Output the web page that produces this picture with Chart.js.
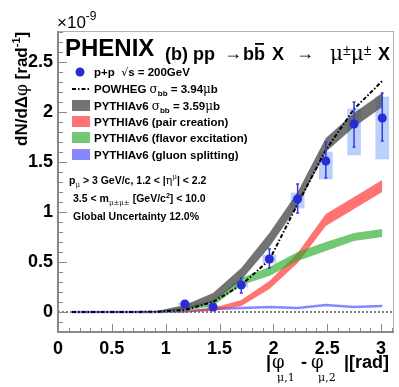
<!DOCTYPE html>
<html>
<head>
<meta charset="utf-8">
<script src="https://cdn.jsdelivr.net/npm/chart.js@4.4.1/dist/chart.umd.min.js"></script>
<style>
  html, body { margin: 0; padding: 0; background: #fff; }
  #wrap { width: 399px; height: 387px; position: relative; }
</style>
</head>
<body>
<div id="wrap"><canvas id="chart"></canvas></div>
<script>
// bin centres of |dphi| (rad)
const binX = [0.131, 0.393, 0.654, 0.916, 1.178, 1.440, 1.702, 1.963, 2.225, 2.487, 2.749, 3.011];

// PHENIX p+p data (x 1e-9)
const dataX = [1.178, 1.440, 1.702, 1.963, 2.225, 2.487, 2.749, 3.011];
const dataY = [0.08, 0.05, 0.27, 0.53, 1.13, 1.51, 1.88, 1.94];
const statLo = [0.06, 0.03, 0.19, 0.44, 0.99, 1.34, 1.65, 1.71];
const statHi = [0.10, 0.07, 0.34, 0.63, 1.28, 1.70, 2.10, 2.19];
const sysLo = [0.07, 0.04, 0.25, 0.49, 1.04, 1.33, 1.57, 1.53];
const sysHi = [0.09, 0.06, 0.29, 0.57, 1.19, 1.60, 2.03, 2.15];

// POWHEG
const powheg = [0, 0, 0, 0.003, 0.02, 0.10, 0.27, 0.52, 1.08, 1.62, 2.03, 2.31];
// PYTHIA total band
const pythiaHi = [0, 0, 0, 0.01, 0.07, 0.19, 0.44, 0.79, 1.20, 1.74, 1.99, 2.19];
const pythiaLo = [0, 0, 0, 0, 0.02, 0.10, 0.32, 0.65, 1.06, 1.60, 1.85, 2.05];
// pair creation
const pairHi = [0, 0, 0, 0, 0.01, 0.04, 0.12, 0.31, 0.59, 0.98, 1.15, 1.32];
const pairLo = [0, 0, 0, 0, 0, 0.01, 0.06, 0.23, 0.49, 0.86, 1.03, 1.20];
// flavor excitation
const flavHi = [0, 0, 0, 0.01, 0.05, 0.12, 0.34, 0.45, 0.60, 0.70, 0.79, 0.83];
const flavLo = [0, 0, 0, 0, 0.01, 0.06, 0.27, 0.36, 0.51, 0.61, 0.71, 0.75];
// gluon splitting
const gluon = [0, 0, 0, 0, 0.005, 0.03, 0.04, 0.05, 0.04, 0.07, 0.05, 0.06];

const xTicks = [0, 0.5, 1, 1.5, 2, 2.5, 3];
const yTicks = [0, 0.5, 1, 1.5, 2, 2.5];

const pts = (xs, ys) => xs.map((x, i) => ({ x: x, y: ys[i] }));

const SANS = '"Liberation Sans", Arial, sans-serif';
const SERIF = '"DejaVu Serif", serif';
const GREY = '#8a8a8a';

function rich(ctx, x, y, parts) {
    for (const p of parts) {
        ctx.font = p[1];
        ctx.fillText(p[0], x, y + (p[2] || 0));
        x += ctx.measureText(p[0]).width + (p[3] || 0);
    }
    return x;
}

// zero line, error bars, frame and texts
const PTS = 0;
const marks = {
    id: 'marks',
    beforeDatasetsDraw(chart) {
        const { ctx, chartArea: a, scales: { y } } = chart;
        const y0 = y.getPixelForValue(0);
        ctx.save();
        ctx.strokeStyle = '#000';
        ctx.lineWidth = 1;
        ctx.setLineDash([2, 2]);
        ctx.beginPath();
        ctx.moveTo(a.left, y0);
        ctx.lineTo(a.right, y0);
        ctx.stroke();
        ctx.restore();
    },
    beforeDatasetDraw(chart, args) {
        if (args.index !== PTS) return;
        const { ctx, scales: { x, y } } = chart;
        ctx.save();
        ctx.strokeStyle = '#3a3ad8';
        ctx.lineWidth = 1.5;
        dataX.forEach((v, i) => {
            const px = x.getPixelForValue(v);
            const lo = y.getPixelForValue(statLo[i]);
            const hi = y.getPixelForValue(statHi[i]);
            ctx.beginPath();
            ctx.moveTo(px, lo); ctx.lineTo(px, hi);
            ctx.moveTo(px - 1.5, lo); ctx.lineTo(px + 1.5, lo);
            ctx.moveTo(px - 1.5, hi); ctx.lineTo(px + 1.5, hi);
            ctx.stroke();
        });
        ctx.restore();
    },
    afterDraw(chart) {
        const { ctx, chartArea: a, scales: { x, y } } = chart;
        ctx.save();
        // frame
        ctx.strokeStyle = '#b0b0b0';
        ctx.lineWidth = 1;
        ctx.strokeRect(a.left + 0.5, a.top + 0.5, a.right - a.left - 1, a.bottom - a.top - 1);
        ctx.strokeStyle = GREY;
        ctx.lineWidth = 2;
        ctx.beginPath();
        ctx.moveTo(a.left, a.top); ctx.lineTo(a.left, a.bottom); ctx.lineTo(a.right, a.bottom);
        ctx.stroke();
        // ticks
        ctx.lineWidth = 1;
        ctx.beginPath();
        for (let k = -2; k <= 28; k++) {
            const py = Math.round(y.getPixelForValue(k / 10)) + 0.5;
            const len = k % 5 === 0 ? 9 : 5;
            ctx.moveTo(a.left, py); ctx.lineTo(a.left + len, py);
        }
        for (let k = 0; k <= 31; k++) {
            const px = Math.round(x.getPixelForValue(k / 10)) + 0.5;
            const len = k % 5 === 0 ? 8 : 4;
            ctx.moveTo(px, a.bottom); ctx.lineTo(px, a.bottom - len);
        }
        ctx.stroke();

        ctx.fillStyle = '#000';
        ctx.textBaseline = 'alphabetic';
        ctx.textAlign = 'left';
        // exponent
        rich(ctx, 57, 28, [['\u00d710', '17px ' + SANS], ['-9', '12px ' + SANS, -8]]);
        // title
        ctx.font = 'bold 24px ' + SANS;
        ctx.fillText('PHENIX', 65, 56);
        ctx.font = 'bold 18px ' + SANS;
        ctx.fillText('(b) pp', 165, 60);
        ctx.font = '18px ' + SANS;
        ctx.fillText('\u2192', 224, 59);
        ctx.font = 'bold 18px ' + SANS;
        ctx.fillText('b', 243, 60);
        const bw = ctx.measureText('b').width;
        ctx.fillText('b', 243 + bw, 60);
        ctx.fillRect(243 + bw + 1, 43, bw - 2, 1.8);
        ctx.fillText('X', 272, 60);
        ctx.font = '18px ' + SANS;
        ctx.fillText('\u2192', 296, 59);
        rich(ctx, 330, 60, [['\u03bc', '20px ' + SERIF], ['\u00b1', '14px ' + SANS, -5], ['\u03bc', '20px ' + SERIF], ['\u00b1', '14px ' + SANS, -5]]);
        ctx.font = 'bold 18px ' + SANS;
        ctx.fillText('X', 378, 60);

        // legend
        const B = 'bold 11.5px ' + SANS;
        const Bs = 'bold 8px ' + SANS;
        const G = '12px ' + SERIF;
        ctx.fillStyle = '#2b2bd6';
        ctx.beginPath(); ctx.arc(80, 72, 4.5, 0, Math.PI * 2); ctx.fill();
        ctx.fillStyle = '#000';
        rich(ctx, 94, 76, [['p+p  ', B], ['\u221a', '11px "DejaVu Sans"'], ['s = 200GeV', B]]);
        ctx.strokeStyle = '#000'; ctx.lineWidth = 2; ctx.setLineDash([4, 2, 1.5, 2]);
        ctx.beginPath(); ctx.moveTo(72, 89); ctx.lineTo(90, 89); ctx.stroke();
        ctx.setLineDash([]);
        rich(ctx, 94, 93, [['POWHEG ', B], ['\u03c3', G], ['bb', Bs, 3], [' = 3.94', B], ['\u03bc', G], ['b', B]]);
        const boxes = [
            ['rgba(80,80,80,0.8)', 100],
            ['rgba(255,40,40,0.65)', 116],
            ['rgba(40,170,40,0.65)', 132],
            ['rgba(70,70,255,0.65)', 149]
        ];
        boxes.forEach(b => { ctx.fillStyle = b[0]; ctx.fillRect(72, b[1], 18, 11); });
        ctx.fillStyle = '#000';
        rich(ctx, 94, 110, [['PYTHIAv6 ', B], ['\u03c3', G], ['bb', Bs, 3], [' = 3.59', B], ['\u03bc', G], ['b', B]]);
        rich(ctx, 94, 126, [['PYTHIAv6 (pair creation)', B]]);
        rich(ctx, 94, 142, [['PYTHIAv6 (flavor excitation)', B]]);
        rich(ctx, 94, 159, [['PYTHIAv6 (gluon splitting)', B]]);

        // cuts
        const N = 'bold 10.5px ' + SANS;
        const Ns = '7px ' + SERIF;
        rich(ctx, 69, 184, [['p', N], ['\u03bc', Ns, 3], [' > 3 GeV/c, 1.2 < |', N], ['\u03b7', '11px ' + SERIF], ['\u03bc', Ns, -5], ['| < 2.2', N]]);
        rich(ctx, 73, 202, [['3.5 < m', N], ['\u03bc\u00b1\u03bc\u00b1', Ns, 3], [' [GeV/c', N], ['2', 'bold 7px ' + SANS, -4], ['] < 10.0', N]]);
        rich(ctx, 73, 220, [['Global Uncertainty 12.0%', N]]);

        // x title
        const F = '18px ' + SERIF;
        const Fs = '11px ' + SERIF;
        ctx.font = 'bold 18px ' + SANS;
        ctx.fillText('|', 266, 368);
        ctx.font = F; ctx.fillText('\u03c6', 272, 368);
        ctx.font = Fs; ctx.fillText('\u03bc,1', 277, 381);
        ctx.font = 'bold 18px ' + SANS; ctx.fillText('-', 301, 368);
        ctx.font = F; ctx.fillText('\u03c6', 311, 368);
        ctx.font = Fs; ctx.fillText('\u03bc,2', 318, 381);
        ctx.font = 'bold 18px ' + SANS; ctx.fillText('|[rad]', 344, 368);

        // y title
        ctx.translate(27, 146);
        ctx.rotate(-Math.PI / 2);
        rich(ctx, 0, 0, [['dN/d\u0394', 'bold 17px ' + SANS], ['\u03c6', '17px ' + SERIF], [' [rad', 'bold 17px ' + SANS], ['-1', 'bold 11px ' + SANS, -7], [']', 'bold 17px ' + SANS]]);
        ctx.restore();
    }
};

const tickFont = { family: 'Liberation Sans', size: 18, weight: 'bold' };

new Chart(document.getElementById('chart'), {
    type: 'line',
    data: {
        datasets: [
            {
                label: 'p+p', type: 'scatter', data: pts(dataX, dataY), order: 0,
                pointRadius: 4.5, pointBackgroundColor: '#2b2bd6', pointBorderWidth: 0, showLine: false
            },
            {
                label: 'POWHEG', data: pts(binX, powheg), order: 1,
                borderColor: '#000', borderWidth: 2, borderDash: [4, 2, 1.5, 2], pointRadius: 0, fill: false
            },
            {
                label: 'PYTHIA hi', data: pts(binX, pythiaHi), order: 2,
                borderWidth: 0, pointRadius: 0, fill: false
            },
            {
                label: 'PYTHIAv6', data: pts(binX, pythiaLo), order: 2,
                borderWidth: 0, pointRadius: 0, fill: '-1', backgroundColor: 'rgba(80,80,80,0.8)'
            },
            {
                label: 'flavor hi', data: pts(binX, flavHi), order: 3,
                borderWidth: 0, pointRadius: 0, fill: false
            },
            {
                label: 'flavor excitation', data: pts(binX, flavLo), order: 3,
                borderWidth: 0, pointRadius: 0, fill: '-1', backgroundColor: 'rgba(40,170,40,0.65)'
            },
            {
                label: 'pair hi', data: pts(binX, pairHi), order: 4,
                borderWidth: 0, pointRadius: 0, fill: false
            },
            {
                label: 'pair creation', data: pts(binX, pairLo), order: 4,
                borderWidth: 0, pointRadius: 0, fill: '-1', backgroundColor: 'rgba(255,40,40,0.65)'
            },
            {
                label: 'gluon splitting', data: pts(binX, gluon), order: 5,
                borderColor: 'rgba(70,70,255,0.65)', borderWidth: 2.5, pointRadius: 0, fill: false
            },
            {
                label: 'sys', type: 'bar', order: 6,
                data: dataX.map((x, i) => ({ x: x, y: [sysLo[i], sysHi[i]] })),
                backgroundColor: 'rgba(100,150,250,0.45)', borderWidth: 0, barThickness: 13
            }
        ]
    },
    options: {
        responsive: true,
        maintainAspectRatio: false,
        animation: false,
        layout: { padding: { top: 31, right: 5, left: 0, bottom: 0 } },
        plugins: { legend: { display: false }, tooltip: { enabled: false } },
        scales: {
            x: {
                type: 'linear', min: 0, max: 3.12, offset: false,
                grid: { display: false, drawTicks: false }, border: { display: false },
                afterBuildTicks: s => { s.ticks = xTicks.map(v => ({ value: v })); },
                afterFit: s => { s.height = 55; },
                ticks: { font: tickFont, color: '#000', padding: 6, maxRotation: 0, autoSkip: false, callback: v => String(v) }
            },
            y: {
                type: 'linear', min: -0.2, max: 2.81,
                grid: { display: false, drawTicks: false }, border: { display: false },
                afterBuildTicks: s => { s.ticks = yTicks.map(v => ({ value: v })); },
                afterFit: s => { s.width = 58; },
                ticks: { font: tickFont, color: '#000', padding: 5, autoSkip: false, callback: v => String(v) }
            }
        }
    },
    plugins: [marks]
});
</script>
</body>
</html>
